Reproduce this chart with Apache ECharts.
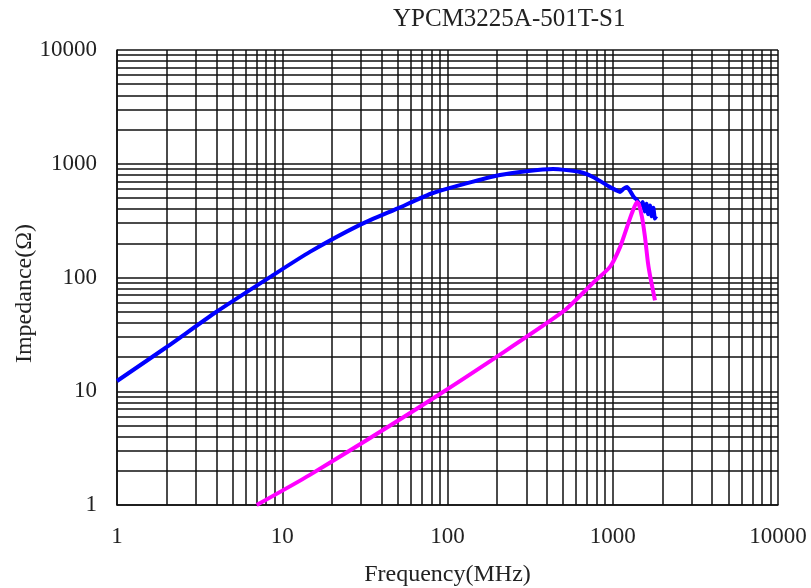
<!DOCTYPE html>
<html>
<head>
<meta charset="utf-8">
<script src="https://cdn.jsdelivr.net/npm/echarts@6/dist/echarts.min.js"></script>
<style>
html, body { margin: 0; padding: 0; background: #fff; }
#chart { width: 811px; height: 588px; }
</style>
</head>
<body>
<div id="chart"></div>
<script>
// impedance curve, [MHz, ohm]
var impedanceZ = [
	[1, 12.3], [2, 24.5], [4, 50], [8.8, 105], [14.7, 168], [29.5, 290],
	[50, 405], [81.7, 553], [208, 796], [435, 899], [634, 846], [759, 765],
	[962, 625], [1060, 580], [1107, 565], [1160, 600], [1220, 625], [1280, 570],
	[1340, 510], [1402, 480], [1470, 430], [1520, 460], [1560, 380], [1600, 445],
	[1640, 360], [1680, 430], [1720, 345], [1760, 410], [1800, 330], [1835, 345]
];
// resistance curve
var resistanceR = [
	[7, 1.0], [14.7, 1.84], [94, 9.85], [500, 50], [759, 89.5], [962, 124],
	[1107, 185], [1220, 278], [1307, 369], [1402, 461], [1440, 440], [1503, 340],
	[1567, 227], [1634, 134], [1690, 100], [1801, 63]
];
var chartTitle = 'YPCM3225A-501T-S1';

var myChart = echarts.init(document.getElementById('chart'));
var serif = 'Liberation Serif';
var gridLine = { show: true, lineStyle: { color: '#111', width: 1.5 } };
var plain = function (v) { return String(v); };

var option = {
	animation: false,
	title: {
		text: chartTitle,
		left: 388,
		top: 2,
		textStyle: { fontFamily: serif, fontWeight: 'normal', fontSize: 25, color: '#222' }
	},
	grid: { left: 117, right: 33, top: 50, bottom: 83, containLabel: false, outerBoundsMode: 'none' },
	xAxis: {
		type: 'log',
		logBase: 10,
		min: 1,
		max: 10000,
		name: 'Frequency(MHz)',
		nameLocation: 'middle',
		nameGap: 58,
		nameMoveOverlap: false,
		nameTextStyle: { fontFamily: serif, fontSize: 24, color: '#222' },
		axisLine: { lineStyle: { color: '#111', width: 1.5 } },
		axisTick: { show: false },
		axisLabel: { fontFamily: serif, fontSize: 23, color: '#222', margin: 20, formatter: plain },
		splitLine: gridLine,
		minorTick: { show: false, splitNumber: 9 },
		minorSplitLine: gridLine
	},
	yAxis: {
		type: 'log',
		logBase: 10,
		min: 1,
		max: 10000,
		name: 'Impedance(Ω)',
		nameLocation: 'middle',
		nameGap: 80,
		nameMoveOverlap: false,
		nameTextStyle: { fontFamily: serif, fontSize: 24, color: '#222', padding: [0, 32, 0, 0] },
		axisLine: { lineStyle: { color: '#111', width: 1.5 } },
		axisTick: { show: false },
		axisLabel: { fontFamily: serif, fontSize: 23, color: '#222', margin: 20, formatter: plain },
		splitLine: gridLine,
		minorTick: { show: false, splitNumber: 9 },
		minorSplitLine: gridLine
	},
	series: [
		{
			name: 'Z',
			type: 'line',
			data: impedanceZ,
			showSymbol: false,
			smooth: 0.2,
			lineStyle: { color: '#0000ff', width: 4 }
		},
		{
			name: 'R',
			type: 'line',
			data: resistanceR,
			showSymbol: false,
			smooth: 0.2,
			lineStyle: { color: '#ff00ff', width: 4 }
		}
	]
};
myChart.setOption(option);
</script>
</body>
</html>
